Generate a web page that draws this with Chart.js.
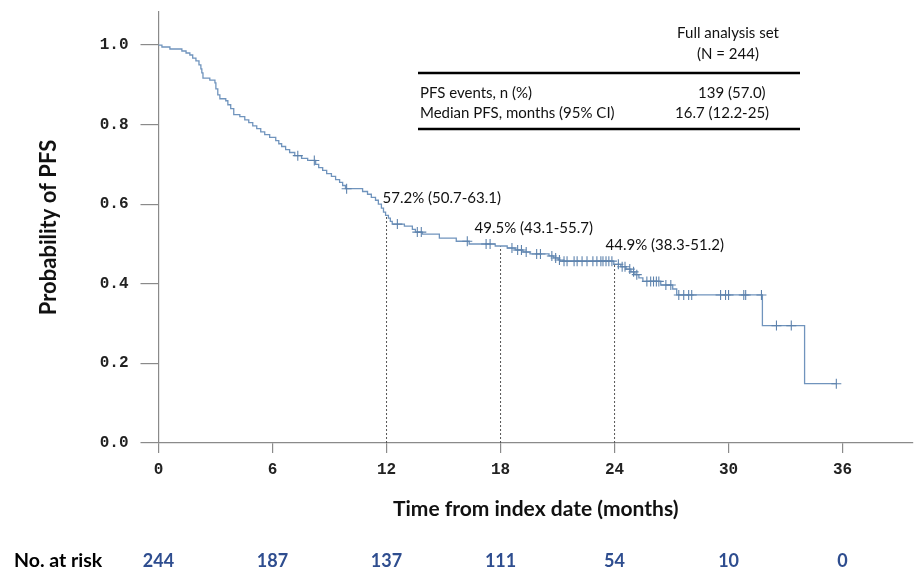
<!DOCTYPE html>
<html>
<head>
<meta charset="utf-8">
<script src="https://cdn.jsdelivr.net/npm/chart.js@4.4.1/dist/chart.umd.min.js"></script>
<style>
  html, body { margin: 0; padding: 0; background: #ffffff; }
  #wrap { width: 919px; height: 574px; position: relative; }
</style>
</head>
<body>
<div id="wrap"><canvas id="c" width="919" height="574"></canvas></div>
<script>
// ---- Data ----
const eventTimes = [0, 0.18, 0.6, 1.23, 1.45, 1.65, 1.8, 1.97, 2.13, 2.23, 2.28, 2.34, 2.7, 2.97, 3.02, 3.12, 3.23, 3.54, 3.65, 3.8, 3.96, 4.28, 4.54, 4.75, 4.96, 5.17, 5.38, 5.59, 5.85, 6.17, 6.33, 6.48, 6.69, 6.9, 7.17, 7.53, 7.85, 8.27, 8.43, 8.64, 8.85, 9.1, 9.32, 9.53, 9.69, 9.84, 10.74, 11.0, 11.2, 11.42, 11.57, 11.73, 11.84, 11.95, 12.1, 12.2, 12.3, 12.94, 13.36, 13.52, 13.89, 14.78, 15.67, 16.35, 17.72, 18.35, 18.77, 19.18, 19.55, 20.55, 20.8, 21.03, 21.13, 23.96, 24.33, 24.6, 24.86, 25.07, 25.28, 25.49, 26.43, 27.06, 27.27, 31.78, 34.0];
const survival = [1.0, 0.995, 0.99, 0.985, 0.98, 0.975, 0.967, 0.96, 0.95, 0.94, 0.93, 0.917, 0.912, 0.905, 0.89, 0.875, 0.865, 0.86, 0.85, 0.84, 0.825, 0.82, 0.812, 0.805, 0.797, 0.79, 0.782, 0.775, 0.768, 0.76, 0.752, 0.745, 0.737, 0.73, 0.722, 0.715, 0.71, 0.70, 0.692, 0.685, 0.677, 0.67, 0.662, 0.655, 0.647, 0.639, 0.632, 0.625, 0.617, 0.61, 0.60, 0.59, 0.58, 0.572, 0.565, 0.557, 0.55, 0.545, 0.537, 0.53, 0.525, 0.515, 0.507, 0.50, 0.495, 0.49, 0.485, 0.48, 0.475, 0.47, 0.465, 0.46, 0.457, 0.449, 0.443, 0.437, 0.43, 0.423, 0.415, 0.406, 0.397, 0.387, 0.372, 0.295, 0.149];
const lastFollowUp = 35.67;
const censorTimes = [7.33, 8.2, 9.9, 12.57, 13.62, 13.83, 16.25, 17.24, 17.45, 18.6, 18.9, 19.1, 19.35, 19.9, 20.1, 20.7, 20.9, 21.1, 21.34, 21.5, 21.87, 22.03, 22.29, 22.55, 22.86, 23.07, 23.28, 23.39, 23.55, 23.7, 23.86, 24.2, 24.4, 24.55, 24.8, 25.0, 25.17, 25.7, 25.9, 26.05, 26.2, 26.33, 26.7, 26.96, 27.38, 27.64, 27.9, 28.06, 29.58, 29.84, 30.0, 30.8, 30.9, 31.73, 32.52, 33.3, 35.67];

const landmarkTimes = [12, 18, 24];
const landmarkValues = [0.572, 0.495, 0.449];
const landmarkLabels = ["57.2% (50.7-63.1)", "49.5% (43.1-55.7)", "44.9% (38.3-51.2)"];

const xTicks = [0, 6, 12, 18, 24, 30, 36];
const yTicks = [0, 0.2, 0.4, 0.6, 0.8, 1.0];
const atRisk = [244, 187, 137, 111, 54, 10, 0];

const tableHeader = ["Full analysis set", "(N = 244)"];
const tableRows = ["PFS events, n (%)", "Median PFS, months (95% CI)"];
const tableValues = ["139 (57.0)", "16.7 (12.2-25)"];

// ---- Build datasets ----
const curve = eventTimes.map((t, i) => ({ x: t, y: survival[i] }));
curve.push({ x: lastFollowUp, y: survival[survival.length - 1] });

function survAt(t) {
  let s = 1;
  for (let i = 0; i < eventTimes.length; i++) { if (eventTimes[i] <= t) s = survival[i]; }
  return s;
}
const censors = censorTimes.map(t => ({ x: t, y: survAt(t) }));

const LINE = '#7094bd';
const MARK = '#5e83ad';

const datasets = [];
landmarkTimes.forEach((t, i) => {
  datasets.push({
    type: 'line', data: [{ x: t, y: 0 }, { x: t, y: landmarkValues[i] }],
    borderColor: '#555', borderWidth: 1, borderDash: [2, 2], pointRadius: 0, order: 3
  });
});
datasets.push({
  type: 'line', data: curve, stepped: 'before', borderColor: LINE, borderWidth: 1.3,
  pointRadius: 0, fill: false, order: 2
});
datasets.push({
  type: 'scatter', data: censors, pointStyle: 'cross', pointRadius: 5,
  borderColor: MARK, borderWidth: 1.1, backgroundColor: MARK, order: 1
});

const TXT = "Lato, 'Open Sans', sans-serif";

const overlay = {
  id: 'overlay',
  afterDraw(chart) {
    const ctx = chart.ctx;
    const xs = chart.scales.x, ys = chart.scales.y;
    ctx.save();
    // landmark annotations
    ctx.fillStyle = '#111';
    ctx.font = '15px ' + TXT;
    ctx.textBaseline = 'middle';
    ctx.textAlign = 'left';
    const dx = [-4, -26, -9], dy = [-17, -18, -19];
    landmarkTimes.forEach((t, i) => {
      ctx.fillText(landmarkLabels[i], xs.getPixelForValue(t) + dx[i], ys.getPixelForValue(landmarkValues[i]) + dy[i]);
    });
    // table
    ctx.textAlign = 'center';
    ctx.fillText(tableHeader[0], 728, 33);
    ctx.fillText(tableHeader[1], 728, 54);
    ctx.strokeStyle = '#000';
    ctx.lineWidth = 2.5;
    ctx.beginPath(); ctx.moveTo(418, 73); ctx.lineTo(800, 73); ctx.stroke();
    ctx.beginPath(); ctx.moveTo(418, 129); ctx.lineTo(800, 129); ctx.stroke();
    ctx.textAlign = 'left';
    ctx.fillText(tableRows[0], 420, 93);
    ctx.fillText(tableRows[1], 420, 113);
    ctx.fillText(tableValues[0], 698, 93);
    ctx.fillText(tableValues[1], 675, 113);
    // at risk row
    ctx.font = 'bold 19.5px ' + TXT;
    ctx.fillStyle = '#000';
    ctx.fillText('No. at risk', 14, 561);
    ctx.font = 'bold 18px ' + TXT;
    ctx.fillStyle = '#2e4d8f';
    ctx.textAlign = 'center';
    xTicks.forEach((t, i) => {
      ctx.fillText(String(atRisk[i]), xs.getPixelForValue(t), 561);
    });
    ctx.restore();
  }
};

new Chart(document.getElementById('c'), {
  data: { datasets },
  options: {
    responsive: false,
    animation: false,
    events: [],
    layout: { padding: { top: 12, right: 4, left: 0, bottom: 0 } },
    plugins: { legend: { display: false }, tooltip: { enabled: false } },
    scales: {
      x: {
        type: 'linear', min: 0, max: 39.7,
        afterBuildTicks: s => { s.ticks = xTicks.map(v => ({ value: v })); },
        afterFit: s => { s.height = 131; s.paddingLeft = 0; s.paddingRight = 0; },
        border: { display: true, color: '#8a8a8a', width: 1.2 },
        grid: { display: true, drawOnChartArea: false, drawTicks: true, tickLength: 10, color: '#8a8a8a', lineWidth: 1.2 },
        ticks: { padding: 7, color: '#222', font: { family: "'Liberation Mono', monospace", size: 16, weight: 'bold' }, maxRotation: 0 },
        title: { display: true, text: 'Time from index date (months)', color: '#111',
          font: { family: TXT, size: 21, weight: 'bold' }, padding: { top: 0, bottom: 52 } }
      },
      y: {
        type: 'linear', min: 0, max: 1.083,
        afterBuildTicks: s => { s.ticks = yTicks.map(v => ({ value: v })); },
        afterFit: s => { s.width = 158.5; s.paddingTop = 0; s.paddingBottom = 0; },
        border: { display: true, color: '#8a8a8a', width: 1.2 },
        grid: { display: true, drawOnChartArea: false, drawTicks: true, tickLength: 18, color: '#8a8a8a', lineWidth: 1.2 },
        ticks: { padding: 12, color: '#222', font: { family: "'Liberation Mono', monospace", size: 16, weight: 'bold' },
          callback: v => v.toFixed(1) },
        title: { display: true, text: 'Probability of PFS', color: '#111',
          font: { family: TXT, size: 22, weight: 'bold' }, padding: { top: 36, bottom: 0 } }
      }
    }
  },
  plugins: [overlay]
});
</script>
</body>
</html>
